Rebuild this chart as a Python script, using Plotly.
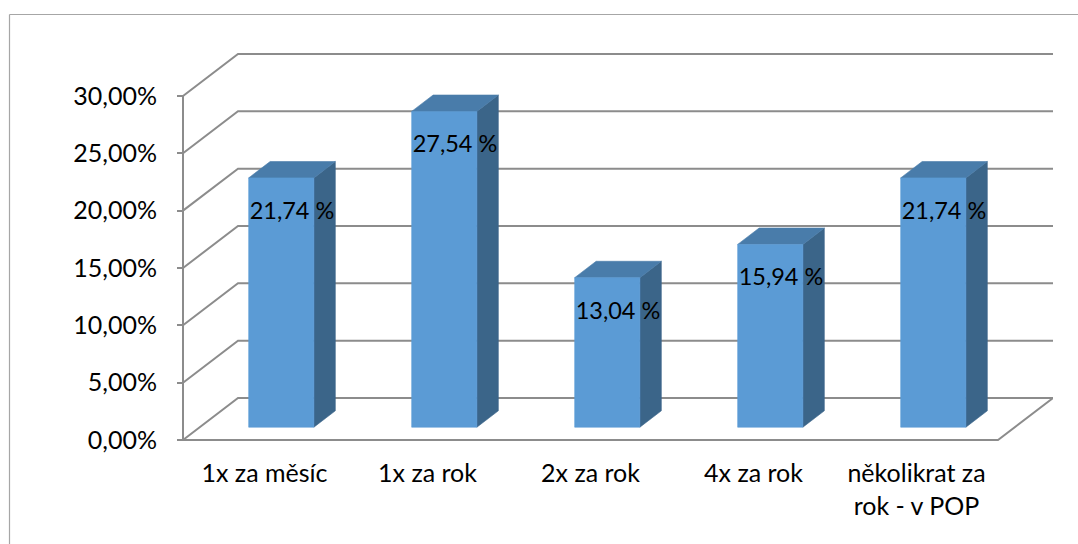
import plotly.graph_objects as go

# ---- data ----
categories = ["1x za měsíc", "1x za rok", "2x za rok", "4x za rok", "několikrat za<br>rok - v POP"]
values = [21.74, 27.54, 13.04, 15.94, 21.74]
value_labels = ["21,74 %", "27,54 %", "13,04 %", "15,94 %", "21,74 %"]
y_ticks = [0, 5, 10, 15, 20, 25, 30]
y_tick_labels = ["0,00%", "5,00%", "10,00%", "15,00%", "20,00%", "25,00%", "30,00%"]

# ---- oblique projection settings ----
PX_UNIT = 163.0      # px per category
PX_PCT = 11.467      # px per percent
DX = 55 / PX_UNIT    # full depth shift (x, category units)
DY = 42 / PX_PCT     # full depth shift (y, percent units)
D0, D1 = 0.305, 0.695  # bar depth extent
HW = 0.2             # half bar width
LABEL_DROP = 35 / PX_PCT

FRONT = "#5B9BD5"
SIDE = "#3B6589"
TOP = "#497CAA"
GRID = "#8C8C8C"
FONT = "Lato"

fig = go.Figure()

n = len(categories)

def P(x, v, d):
    return x + d * DX, v + d * DY

# bars
for i, v in enumerate(values):
    c = i + 0.5
    xl, xr = c - HW, c + HW
    pts = [P(xl, 0, D0), P(xr, 0, D0), P(xr, v, D0), P(xl, v, D0)]
    side = [P(xr, 0, D0), P(xr, 0, D1), P(xr, v, D1), P(xr, v, D0)]
    top = [P(xl, v, D0), P(xr, v, D0), P(xr, v, D1), P(xl, v, D1)]
    for poly, col in ((side, SIDE), (top, TOP), (pts, FRONT)):
        xs = [p[0] for p in poly] + [poly[0][0]]
        ys = [p[1] for p in poly] + [poly[0][1]]
        fig.add_trace(go.Scatter(x=xs, y=ys, mode="lines", fill="toself",
                                 fillcolor=col, line=dict(color=col, width=0.6),
                                 hoverinfo="skip", showlegend=False))

# data labels
lx = [i + 0.5 + 0.5 * DX for i in range(n)]
ly = [v + D0 * DY - LABEL_DROP for v in values]
fig.add_trace(go.Scatter(x=lx, y=ly, mode="text", text=value_labels,
                         textposition="middle center",
                         textfont=dict(family=FONT, size=23.5, color="#000000"),
                         hoverinfo="skip", showlegend=False, cliponaxis=False))

shapes = []
for t in y_ticks[1:]:
    shapes.append(dict(type="path", xref="x", yref="y", layer="below",
                       path=f"M 0,{t} L {DX},{t + DY} L {n + DX},{t + DY}",
                       line=dict(color=GRID, width=2)))
shapes.append(dict(type="path", xref="x", yref="y", layer="below",
                   path=f"M 0,0 L {DX},{DY} L {n + DX},{DY} L {n},0 Z",
                   line=dict(color=GRID, width=2)))
shapes.append(dict(type="line", xref="x", yref="y", layer="below",
                   x0=0, x1=0, y0=0, y1=y_ticks[-1],
                   line=dict(color=GRID, width=2)))

L, R, T, B = 177, 25, 40, 98
W, H = 1078, 544
pw, ph = W - L - R, H - T - B
def px2paper_x(px):
    return (px - L) / pw
def py2paper_y(py):
    return (H - B - py) / ph
shapes.append(dict(type="line", xref="paper", yref="paper",
                   x0=px2paper_x(9.5), x1=px2paper_x(1090), y0=py2paper_y(14.5), y1=py2paper_y(14.5),
                   line=dict(color="#A6A6A6", width=1.2)))
shapes.append(dict(type="line", xref="paper", yref="paper",
                   x0=px2paper_x(9.5), x1=px2paper_x(9.5), y0=py2paper_y(14.5), y1=py2paper_y(560),
                   line=dict(color="#A6A6A6", width=1.2)))

fig.update_layout(
    width=W, height=H,
    margin=dict(l=L, r=R, t=T, b=B),
    paper_bgcolor="white", plot_bgcolor="white",
    shapes=shapes,
    showlegend=False,
    xaxis=dict(range=[-6 / PX_UNIT, n + DX], showgrid=False, zeroline=False, showline=False,
               tickvals=[i + 0.5 for i in range(n)], ticktext=categories, ticks="",
               tickfont=dict(family=FONT, size=25, color="#000000"),
               ticklabelstandoff=10, fixedrange=True),
    yaxis=dict(range=[-6 / PX_PCT, 400 / PX_PCT], showgrid=False, zeroline=False, showline=False,
               tickvals=y_ticks, ticktext=y_tick_labels, ticks="inside", ticklen=6,
               tickwidth=2, tickcolor=GRID,
               tickfont=dict(family=FONT, size=25, color="#000000"),
               ticklabelstandoff=19, fixedrange=True),
)

fig.write_html("out.html")
